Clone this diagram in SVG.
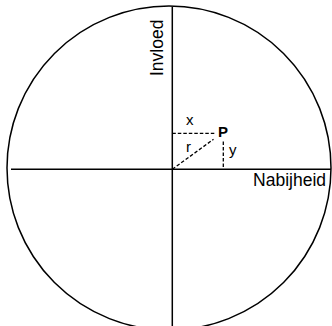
<svg xmlns="http://www.w3.org/2000/svg" width="332" height="326" viewBox="0 0 332 326">
<style>
.solid{stroke:#000;stroke-width:1.5;fill:none}
.dash{stroke:#000;stroke-width:1.3;fill:none;stroke-dasharray:3.5 2}
.t{font-family:"Liberation Sans",Arial,sans-serif;fill:#000}
</style>
<rect width="332" height="326" fill="#fff"/>
<g id="circle"><circle class="solid" cx="169" cy="168" r="162"/></g>
<g id="connectors">
<line class="solid" x1="11" y1="169.3" x2="331" y2="169.3"/>
<line class="solid" x1="172.3" y1="7" x2="172.3" y2="326"/>
<line class="dash" x1="172.3" y1="133.3" x2="215" y2="133.3"/>
<line class="dash" x1="223.3" y1="141.5" x2="223.3" y2="169"/>
<line class="dash" x1="172.3" y1="169.3" x2="213.5" y2="139.3"/>
</g>
<g id="labels">
<text class="t" x="326" y="185.7" font-size="17.5" text-anchor="end">Nabijheid</text>
<text class="t" font-size="17.5" transform="translate(163,76) rotate(-90)">Invloed</text>
<text class="t" x="218" y="137" font-size="15" font-weight="bold">P</text>
<text class="t" x="186" y="125" font-size="15">x</text>
<text class="t" x="186" y="152" font-size="15">r</text>
<text class="t" x="229" y="155" font-size="15">y</text>
</g>
</svg>
